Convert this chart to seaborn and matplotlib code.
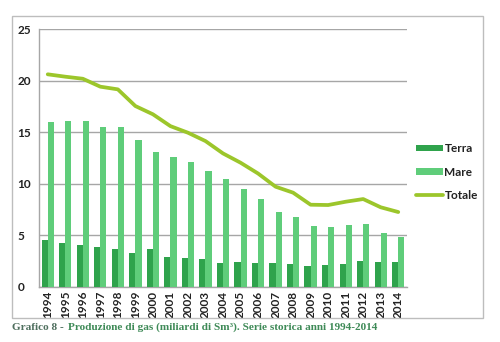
import numpy as np
import pandas as pd
import matplotlib
matplotlib.use("Agg")
import matplotlib.pyplot as plt
from matplotlib.patches import Rectangle, Patch
from matplotlib.lines import Line2D
import seaborn as sns

years = [str(y) for y in range(1994, 2015)]
terra = [4.55, 4.28, 4.06, 3.9, 3.64, 3.31, 3.67, 2.92, 2.77, 2.67, 2.34, 2.38,
         2.34, 2.34, 2.24, 1.99, 2.09, 2.24, 2.48, 2.4, 2.4]
mare = [16.0, 16.07, 16.1, 15.5, 15.5, 14.25, 13.05, 12.57, 12.1, 11.25, 10.5, 9.5,
        8.5, 7.25, 6.8, 5.9, 5.78, 6.0, 6.07, 5.25, 4.8]
totale = [20.63, 20.4, 20.2, 19.43, 19.17, 17.55, 16.75, 15.6, 14.96, 14.15, 12.95, 12.05,
          11.0, 9.72, 9.14, 7.97, 7.94, 8.26, 8.52, 7.72, 7.26]
yticks = [0, 5, 10, 15, 20, 25]

c_terra = "#2fa34c"
c_mare = "#5fcd7a"
c_tot = "#9cc62b"
c_grid = "#a6a6a6"

sns.set_style("white")
plt.rcParams['font.family'] = ['Lato', 'DejaVu Sans']

df = pd.DataFrame({
    "anno": years * 2,
    "valore": terra + mare,
    "serie": ["Terra"] * len(years) + ["Mare"] * len(years),
})

fig = plt.figure(figsize=(5.0, 3.42), dpi=100)
ax = fig.add_axes([0.078, 0.1614, 0.736, 0.7529])

sns.barplot(data=df, x="anno", y="valore", hue="serie",
            palette={"Terra": c_terra, "Mare": c_mare}, saturation=1,
            width=0.7, gap=0, edgecolor="none", linewidth=0, ax=ax,
            legend=False, zorder=3)
sns.lineplot(x=np.arange(len(years)), y=totale, color=c_tot, linewidth=2.7,
             ax=ax, zorder=4)

ax.set_xlim(-0.5, len(years) - 0.5)
ax.set_ylim(0, 25)
ax.set_yticks(yticks)
ax.set_yticklabels([str(v) for v in yticks])
ax.set_xlabel("")
ax.set_ylabel("")
ax.yaxis.grid(True, color=c_grid, linewidth=1.0, zorder=0)
ax.set_axisbelow(True)
for s in ["top", "right"]:
    ax.spines[s].set_visible(False)
for s in ["left", "bottom"]:
    ax.spines[s].set_color(c_grid)
    ax.spines[s].set_linewidth(1.0)
ax.tick_params(axis="y", length=0, pad=11, labelsize=8.5, labelcolor="#222222")
ax.tick_params(axis="x", length=0, pad=3, labelsize=8.5, labelcolor="#222222",
               rotation=90)
for lab in ax.get_yticklabels():
    lab.set_horizontalalignment("left")
    lab.set_x(-0.058)
for lab in ax.get_xticklabels() + ax.get_yticklabels():
    lab.set_fontweight("bold")
ax.tick_params(axis="y", pad=0)

handles = [Patch(facecolor=c_terra, edgecolor="none"),
           Patch(facecolor=c_mare, edgecolor="none"),
           Line2D([0], [0], color=c_tot, linewidth=2.7)]
leg = fig.legend(handles, ["Terra", "Mare", "Totale"], loc="upper left",
                 bbox_to_anchor=(0.811, 0.612), frameon=False,
                 fontsize=8.5, handlelength=2.3, handleheight=0.5,
                 handletextpad=0.1, labelspacing=1.05)
for t in leg.get_texts():
    t.set_fontweight("bold")
    t.set_color("#222222")

fig.patches.append(Rectangle((12 / 500, 1 - 318 / 342), 471 / 500, 302 / 342,
                             transform=fig.transFigure, fill=False,
                             edgecolor="#bdbdbd", linewidth=1.0))

serif = ["Liberation Serif", "DejaVu Serif"]
t1 = fig.text(12 / 500, 1 - 327 / 342, "Grafico 8 -", fontsize=8.1,
              fontweight="bold", family=serif,
              color="#4f6f5e", va="center", ha="left")
fig.canvas.draw()
bb = t1.get_window_extent(renderer=fig.canvas.get_renderer())
fig.text((bb.x1 + 4) / fig.bbox.width, 1 - 327 / 342,
         "Produzione di gas (miliardi di Sm\u00b3). Serie storica anni 1994-2014",
         fontsize=8.1, fontweight="bold", family=serif,
         color="#3e8a57", va="center", ha="left")

fig.savefig("out.png", dpi=100)
